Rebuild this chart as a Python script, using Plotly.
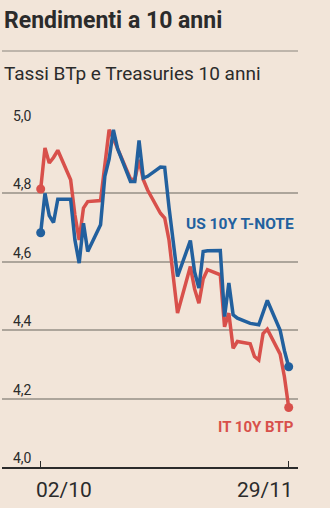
import plotly.graph_objects as go
import pandas as pd

# ---- data ----
us_dates = ["2023-10-02","2023-10-03","2023-10-04","2023-10-05","2023-10-06","2023-10-09",
            "2023-10-10","2023-10-11","2023-10-12","2023-10-13","2023-10-16","2023-10-17",
            "2023-10-18","2023-10-19","2023-10-20","2023-10-23","2023-10-24","2023-10-25",
            "2023-10-26","2023-10-27","2023-10-30","2023-10-31","2023-11-01","2023-11-02",
            "2023-11-03","2023-11-06","2023-11-07","2023-11-08","2023-11-09","2023-11-10",
            "2023-11-13","2023-11-14","2023-11-15","2023-11-16","2023-11-17","2023-11-20",
            "2023-11-21","2023-11-22","2023-11-24","2023-11-27","2023-11-28","2023-11-29"]
us_values = [4.685, 4.80, 4.735, 4.715, 4.783, 4.783,
             4.664, 4.596, 4.713, 4.63, 4.708, 4.85,
             4.90, 4.986, 4.93, 4.835, 4.835, 4.955,
             4.845, 4.85, 4.877, 4.876, 4.76, 4.66,
             4.557, 4.662, 4.57, 4.523, 4.63, 4.632,
             4.633, 4.44, 4.538, 4.445, 4.435, 4.42,
             4.418, 4.416, 4.487, 4.40, 4.34, 4.293]

it_dates = ["2023-10-02","2023-10-03","2023-10-04","2023-10-05","2023-10-06","2023-10-09",
            "2023-10-10","2023-10-11","2023-10-12","2023-10-13","2023-10-16","2023-10-17",
            "2023-10-18","2023-10-19","2023-10-20","2023-10-23","2023-10-24","2023-10-25",
            "2023-10-26","2023-10-27","2023-10-30","2023-10-31","2023-11-01","2023-11-02",
            "2023-11-03","2023-11-06","2023-11-07","2023-11-08","2023-11-09","2023-11-10",
            "2023-11-13","2023-11-14","2023-11-15","2023-11-16","2023-11-17","2023-11-20",
            "2023-11-21","2023-11-22","2023-11-23","2023-11-24","2023-11-27","2023-11-28",
            "2023-11-29"]
it_values = [4.813, 4.933, 4.889, 4.905, 4.926, 4.84,
             4.737, 4.664, 4.757, 4.776, 4.779, 4.887,
             4.986, 4.96, 4.93, 4.842, 4.84, 4.898,
             4.84, 4.81, 4.742, 4.728, 4.664, 4.55,
             4.45, 4.586, 4.52, 4.479, 4.55, 4.577,
             4.562, 4.41, 4.45, 4.347, 4.367, 4.36,
             4.323, 4.313, 4.39, 4.403, 4.33, 4.264,
             4.174]

y_ticks = [4.0, 4.2, 4.4, 4.6, 4.8, 5.0]
y_tick_labels = ["4,0", "4,2", "4,4", "4,6", "4,8", "5,0"]
x_ticks = ["2023-10-02", "2023-11-29"]
x_tick_labels = ["02/10", "29/11"]

title = "Rendimenti a 10 anni"
subtitle = "Tassi BTp e Treasuries 10 anni"
us_label = "US 10Y T-NOTE"
it_label = "IT 10Y BTP"

BG = "#f2e5d9"
BLUE = "#22609e"
RED = "#d8504b"
GRID = "#ada59b"
TEXT = "#2b2b2b"
FONT = "Roboto"

W, H = 330, 508
plot_l, plot_r = 2, 298
plot_t, plot_b = 125, 466.7

# x range so that first date sits at 40.7px and last at 288.7px
d0 = pd.Timestamp(x_ticks[0]); d1 = pd.Timestamp(x_ticks[1])
px0, px1 = 40.7, 288.7
ppd = (px1 - px0) / ((d1 - d0) / pd.Timedelta(days=1))
x_lo = d0 - pd.Timedelta(days=(px0 - plot_l) / ppd)
x_hi = d1 + pd.Timedelta(days=(plot_r - px1) / ppd)

fig = go.Figure()
fig.add_trace(go.Scatter(x=it_dates, y=it_values, mode="lines",
                         line=dict(color=RED, width=3.5), hoverinfo="skip"))
fig.add_trace(go.Scatter(x=us_dates, y=us_values, mode="lines",
                         line=dict(color=BLUE, width=3.5), hoverinfo="skip"))
fig.add_trace(go.Scatter(x=[it_dates[0], it_dates[-1]], y=[it_values[0], it_values[-1]],
                         mode="markers", marker=dict(color=RED, size=9), hoverinfo="skip"))
fig.add_trace(go.Scatter(x=[us_dates[0], us_dates[-1]], y=[us_values[0], us_values[-1]],
                         mode="markers", marker=dict(color=BLUE, size=9), hoverinfo="skip"))

annotations = []
for v, t in zip(y_ticks, y_tick_labels):
    annotations.append(dict(xref="paper", yref="y", x=0, y=v, text=t, showarrow=False,
                            xanchor="left", yanchor="bottom", xshift=9, yshift=-1,
                            font=dict(family=FONT, size=14, color=TEXT)))
annotations.append(dict(xref="x", yref="paper", x=x_ticks[0], y=0, text=x_tick_labels[0],
                        showarrow=False, xanchor="left", yanchor="top", xshift=-7, yshift=-9,
                        font=dict(family=FONT, size=21, color=TEXT)))
annotations.append(dict(xref="x", yref="paper", x=x_ticks[1], y=0, text=x_tick_labels[1],
                        showarrow=False, xanchor="right", yanchor="top", xshift=6, yshift=-9,
                        font=dict(family=FONT, size=21, color=TEXT)))
annotations.append(dict(xref="paper", yref="paper", x=(296 - plot_l) / (plot_r - plot_l),
                        y=(plot_b - 224) / (plot_b - plot_t), text="<b>" + us_label + "</b>",
                        showarrow=False, xanchor="right", yanchor="middle",
                        font=dict(family=FONT, size=15.5, color=BLUE)))
annotations.append(dict(xref="paper", yref="paper", x=(296 - plot_l) / (plot_r - plot_l),
                        y=(plot_b - 427) / (plot_b - plot_t), text="<b>" + it_label + "</b>",
                        showarrow=False, xanchor="right", yanchor="middle",
                        font=dict(family=FONT, size=15, color=RED)))
# title & subtitle
annotations.append(dict(xref="paper", yref="paper", x=0, y=(plot_b - 21) / (plot_b - plot_t),
                        text="<b>" + title + "</b>", showarrow=False, xanchor="left",
                        yanchor="middle", font=dict(family=FONT, size=23, color=TEXT)))
annotations.append(dict(xref="paper", yref="paper", x=0, y=(plot_b - 74) / (plot_b - plot_t),
                        text=subtitle, showarrow=False, xanchor="left",
                        yanchor="middle", font=dict(family=FONT, size=19, color=TEXT)))

shapes = [dict(type="line", xref="paper", yref="paper", x0=0, x1=1,
               y0=(plot_b - 51) / (plot_b - plot_t), y1=(plot_b - 51) / (plot_b - plot_t),
               line=dict(color=GRID, width=1.5))]

fig.update_layout(
    width=W, height=H,
    margin=dict(l=plot_l, r=W - plot_r, t=plot_t, b=H - plot_b),
    paper_bgcolor=BG, plot_bgcolor=BG,
    showlegend=False,
    annotations=annotations, shapes=shapes,
    xaxis=dict(type="date", range=[x_lo, x_hi], showgrid=False, showticklabels=False,
               tickvals=x_ticks, ticks="inside", ticklen=6, tickcolor=TEXT, tickwidth=1,
               showline=True, linecolor=TEXT, linewidth=1.5, zeroline=False, fixedrange=True),
    yaxis=dict(range=[4.0, 5.0], tickvals=y_ticks, showticklabels=False, showgrid=True,
               gridcolor=GRID, gridwidth=1.5, zeroline=False, showline=False, fixedrange=True),
)

fig.write_html("out.html", config={"displayModeBar": False})
